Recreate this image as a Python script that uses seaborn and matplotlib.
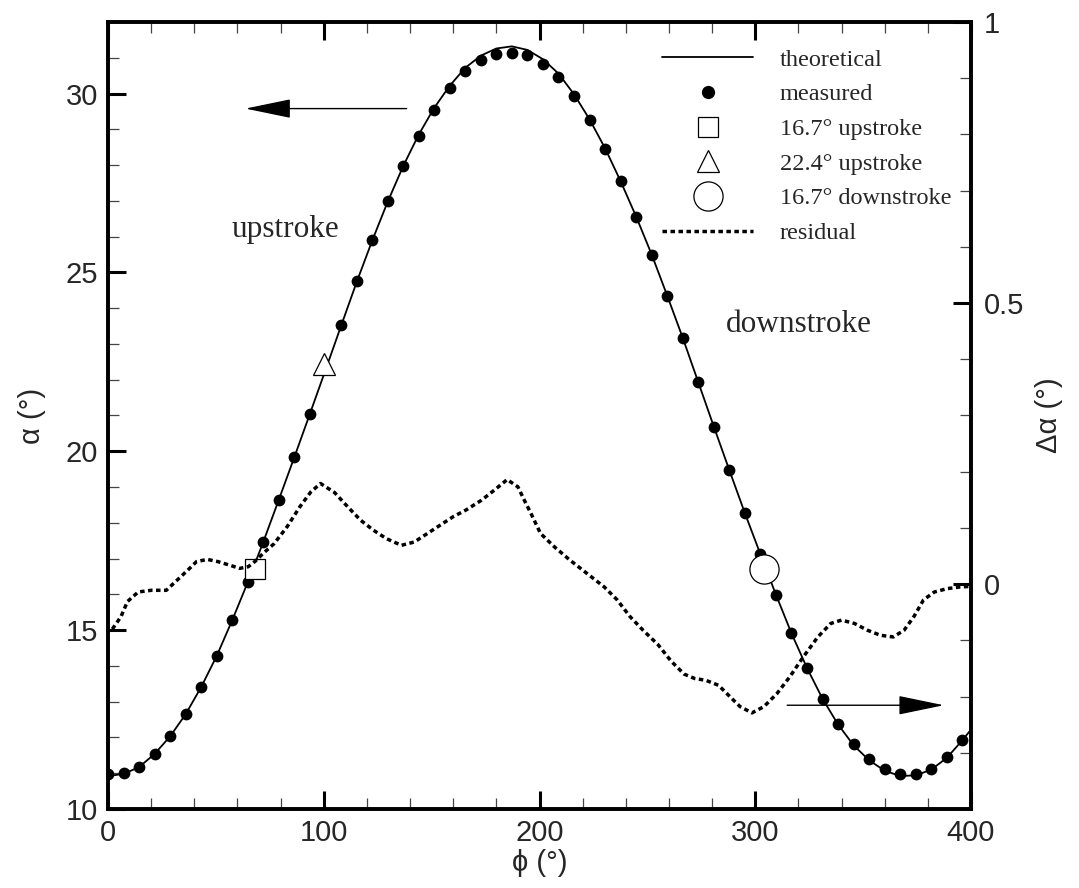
import numpy as np
import pandas as pd
import matplotlib
matplotlib.use("Agg")
import matplotlib.pyplot as plt
from matplotlib.lines import Line2D
from matplotlib.ticker import MultipleLocator
import seaborn as sns

# measured angle of attack (dots), phi in degrees
phi_meas = [0, 7.2, 14.4, 21.6, 28.8, 36.0, 43.2, 50.4, 57.6, 64.8, 72.0, 79.2, 86.4, 93.6,
            100.8, 108.0, 115.2, 122.4, 129.6, 136.8, 144.0, 151.2, 158.4, 165.6, 172.8, 180.0,
            187.2, 194.4, 201.6, 208.8, 216.0, 223.2, 230.4, 237.6, 244.8, 252.0, 259.2, 266.4,
            273.6, 280.8, 288.0, 295.2, 302.4, 309.6, 316.8, 324.0, 331.2, 338.4, 345.6, 352.8,
            360.0, 367.2, 374.4, 381.6, 388.8, 396.0]
alpha_meas = [10.97, 11.01, 11.18, 11.55, 12.03, 12.65, 13.41, 14.28, 15.28, 16.34, 17.47, 18.65,
              19.83, 21.04, 22.29, 23.53, 24.75, 25.90, 26.99, 27.97, 28.82, 29.55, 30.16, 30.62,
              30.94, 31.11, 31.14, 31.08, 30.84, 30.47, 29.92, 29.25, 28.45, 27.55, 26.56, 25.50,
              24.35, 23.18, 21.93, 20.69, 19.47, 18.27, 17.13, 15.99, 14.91, 13.94, 13.08, 12.37,
              11.81, 11.41, 11.13, 10.97, 10.99, 11.13, 11.46, 11.92]

# theoretical curve
phi_theo = phi_meas + [400.0]
alpha_theo = [10.92, 10.98, 11.17, 11.54, 12.03, 12.65, 13.41, 14.28, 15.28, 16.34, 17.47, 18.65,
              19.84, 21.05, 22.27, 23.50, 24.72, 25.88, 26.97, 27.97, 28.85, 29.60, 30.22, 30.72,
              31.06, 31.26, 31.32, 31.22, 30.96, 30.56, 29.98, 29.28, 28.47, 27.55, 26.56, 25.50,
              24.35, 23.17, 21.93, 20.69, 19.47, 18.27, 17.12, 15.99, 14.91, 13.94, 13.08, 12.36,
              11.78, 11.36, 11.07, 10.92, 10.94, 11.10, 11.43, 11.92, 12.22]

# residual (right axis)
phi_res = [2, 6, 9, 14, 20, 27, 32, 37, 41, 46, 51, 57, 61, 65, 68, 72, 77, 83, 89, 94, 98.5,
           105, 111, 117, 123, 129, 136, 142, 148, 154, 160, 166, 173, 179, 185, 190, 193, 196,
           200.5, 207, 214, 222, 230, 236, 242, 248, 255, 261, 267, 272, 277, 283, 289, 293,
           298.5, 304, 310, 316, 322, 329, 335, 340, 346, 352, 358, 364, 369, 373.5, 378, 383,
           389, 395, 400]
res = [-0.080, -0.058, -0.031, -0.014, -0.011, -0.011, 0.007, 0.025, 0.040, 0.044, 0.040, 0.033,
       0.028, 0.031, 0.040, 0.055, 0.072, 0.102, 0.138, 0.164, 0.179, 0.163, 0.138, 0.114, 0.096,
       0.081, 0.069, 0.075, 0.090, 0.105, 0.120, 0.132, 0.149, 0.167, 0.186, 0.173, 0.149, 0.126,
       0.090, 0.066, 0.043, 0.019, -0.005, -0.028, -0.058, -0.082, -0.108, -0.137, -0.160,
       -0.168, -0.171, -0.180, -0.203, -0.218, -0.229, -0.218, -0.195, -0.165, -0.131, -0.094,
       -0.070, -0.064, -0.070, -0.082, -0.091, -0.094, -0.082, -0.058, -0.028, -0.014, -0.008,
       -0.005, -0.004]

# highlighted cases
case_labels = ["16.7° upstroke", "22.4° upstroke", "16.7° downstroke"]
case_phi = [68, 100, 304]
case_alpha = [16.7, 22.45, 16.7]
case_markers = ["s", "^", "o"]
case_sizes = [14.5, 15.5, 21]

sns.set_theme(style="white")
plt.rcParams["font.family"] = ["Liberation Sans", "DejaVu Sans"]
serif = ["Liberation Serif", "DejaVu Serif"]

fig = plt.figure(figsize=(10.79, 8.88), dpi=100)
ax = fig.add_axes([0.1001, 0.0890, 0.7998, 0.8862])
ax2 = ax.twinx()

meas_df = pd.DataFrame({"phi": phi_meas, "alpha": alpha_meas})
theo_df = pd.DataFrame({"phi": phi_theo, "alpha": alpha_theo})
res_df = pd.DataFrame({"phi": phi_res, "res": res})

sns.lineplot(data=theo_df, x="phi", y="alpha", ax=ax, color="black", lw=1.3, zorder=2)
sns.scatterplot(data=meas_df, x="phi", y="alpha", ax=ax, color="black", s=72,
                edgecolor="black", linewidth=0, zorder=3)
for p, a, m, ms in zip(case_phi, case_alpha, case_markers, case_sizes):
    ax.plot([p], [a], marker=m, ms=ms, mfc="white", mec="black", mew=0.9, ls="none", zorder=4)

sns.lineplot(data=res_df, x="phi", y="res", ax=ax2, color="black", lw=2.5,
             linestyle=(0, (1.3, 1.0)), zorder=2)

ax.set_xlim(0, 400)
ax.set_ylim(10, 32)
ax2.set_ylim(-0.4, 1)

ax.xaxis.set_major_locator(MultipleLocator(100))
ax.xaxis.set_minor_locator(MultipleLocator(20))
ax.yaxis.set_major_locator(MultipleLocator(5))
ax.yaxis.set_minor_locator(MultipleLocator(1))
ax2.yaxis.set_major_locator(MultipleLocator(0.5))
ax2.yaxis.set_minor_locator(MultipleLocator(0.1))
ax2.yaxis.set_major_formatter(matplotlib.ticker.FuncFormatter(lambda v, p: f"{v:g}"))

ax.tick_params(axis="x", which="both", direction="in", top=True, bottom=True,
               labelsize=21, pad=7)
ax.tick_params(axis="y", which="both", direction="in", left=True, right=False,
               labelsize=21, pad=7)
ax2.tick_params(axis="y", which="both", direction="in", left=False, right=True,
                labelsize=21, pad=9)
for a in (ax, ax2):
    a.tick_params(which="major", length=13, width=2.2, color="black")
    a.tick_params(which="minor", length=8, width=0.9, color="#444444")
    for s in a.spines.values():
        s.set_linewidth(2.6)
        s.set_color("black")

ax.set_xlabel("ϕ (°)", fontsize=21, labelpad=2)
ax.set_ylabel("α (°)", fontsize=21, labelpad=14)
ax2.set_ylabel("Δα (°)", fontsize=21, labelpad=8)

ax.text(57.3, 26.2, "upstroke", fontsize=22.5, family=serif, va="center", ha="left")
ax.text(286.6, 23.55, "downstroke", fontsize=22.5, family=serif, va="center", ha="left")

arrow = dict(arrowstyle="-|>,head_length=2.9,head_width=0.6", mutation_scale=10,
             color="black", lw=1.0, shrinkA=0, shrinkB=0)
ax.annotate("", xy=(63.7, 29.58), xytext=(138.4, 29.58), arrowprops=arrow)
ax.annotate("", xy=(387.4, 12.9), xytext=(314.8, 12.9), arrowprops=arrow)

handles = [Line2D([], [], color="black", lw=1.3),
           Line2D([], [], color="black", marker="o", ms=8.5, ls="none")]
for m, ms in zip(case_markers, case_sizes):
    handles.append(Line2D([], [], marker=m, ms=ms, mfc="white", mec="black", mew=0.9, ls="none"))
handles.append(Line2D([], [], color="black", lw=2.5, linestyle=(0, (1.3, 1.0))))
labels = ["theoretical", "measured"] + case_labels + ["residual"]
ax2.legend(handles, labels, loc="upper left", bbox_to_anchor=(0.642, 0.966), frameon=False,
           prop={"family": serif, "size": 17.5}, handlelength=3.75, handletextpad=1.1,
           labelspacing=0.52, borderpad=0, borderaxespad=0)

fig.savefig("out.png", dpi=100)
